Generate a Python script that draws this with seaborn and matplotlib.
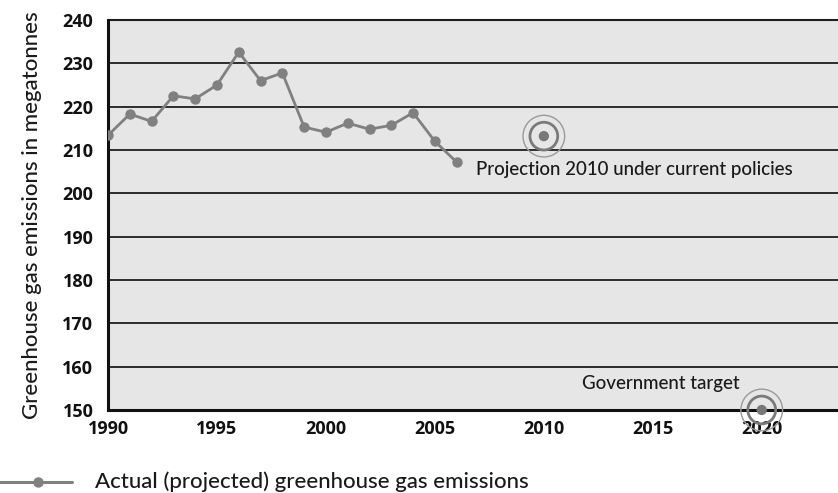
import matplotlib
matplotlib.use("Agg")
import matplotlib.pyplot as plt
import seaborn as sns
import pandas as pd

years = [1990, 1991, 1992, 1993, 1994, 1995, 1996, 1997, 1998, 1999,
         2000, 2001, 2002, 2003, 2004, 2005, 2006]
emissions = [213.4, 218.3, 216.6, 222.5, 221.8, 225.0, 232.6, 226.0, 227.8, 215.3,
             214.1, 216.2, 214.8, 215.7, 218.6, 212.0, 207.2]
proj_year = [2010]
proj_value = [213.2]
target_year = [2020]
target_value = [150]
y_ticks = [150, 160, 170, 180, 190, 200, 210, 220, 230, 240]
x_ticks = [1990, 1995, 2000, 2005, 2010, 2015, 2020]

sns.set_style("white")
plt.rcParams['font.family'] = ['Lato', 'DejaVu Sans']

df = pd.DataFrame({"year": years, "value": emissions})
proj = pd.DataFrame({"year": proj_year, "value": proj_value})
targ = pd.DataFrame({"year": target_year, "value": target_value})

fig = plt.figure(figsize=(8.38, 4.93), dpi=100)
ax = fig.add_axes([0.1289, 0.1684, 0.8711, 0.7910])
ax.set_facecolor("#e6e6e6")

for yv in y_ticks[1:]:
    ax.axhline(yv, color="#1e1e1e", lw=1.3, zorder=1)

gray = "#808080"
sns.lineplot(data=df, x="year", y="value", ax=ax, color=gray, lw=2.0,
             marker="o", markersize=7.5, markeredgewidth=0, zorder=3)

for d in (proj, targ):
    sns.scatterplot(data=d, x="year", y="value", ax=ax, s=900, facecolor="none",
                    edgecolor="#9a9a9a", linewidth=1.0, zorder=4, clip_on=False)
    sns.scatterplot(data=d, x="year", y="value", ax=ax, s=400, facecolor="none",
                    edgecolor="#7a7a7a", linewidth=2.0, zorder=4, clip_on=False)
    sns.scatterplot(data=d, x="year", y="value", ax=ax, s=55, color="#787878",
                    edgecolor="none", zorder=5, clip_on=False)

txt_kw = dict(fontsize=13.5, color="#1a1a1a", fontweight="medium")
ax.text(2006.9, 205.4, "Projection 2010 under current policies", ha="left",
        va="center", **txt_kw)
ax.text(2019.0, 156.2, "Government target", ha="right", va="center", **txt_kw)

ax.set_xlim(1990, 2023.5)
ax.set_ylim(150, 240)
ax.set_xticks(x_ticks)
ax.set_yticks(y_ticks)
tick_font = dict(fontsize=13, fontweight="bold", family=["Open Sans", "DejaVu Sans"])
ax.set_xticklabels([str(v) for v in x_ticks], **tick_font)
ax.set_yticklabels([str(v) for v in y_ticks], **tick_font)
ax.tick_params(axis="both", direction="inout", length=9, width=1.5, color="#111111",
               labelcolor="#111111")
ax.tick_params(axis="y", pad=6)
ax.tick_params(axis="x", pad=3)
ax.set_xlabel("")
ax.set_ylabel("Greenhouse gas emissions in megatonnes", fontsize=16,
              color="#1a1a1a", labelpad=15, fontweight="medium")
for s in ("top", "right"):
    ax.spines[s].set_visible(False)
ax.spines["left"].set_linewidth(2.2)
ax.spines["bottom"].set_linewidth(2.2)
ax.spines["left"].set_color("#111111")
ax.spines["bottom"].set_color("#111111")
ax.axhline(240, color="#1e1e1e", lw=1.5, zorder=1, clip_on=False)

fig.add_artist(plt.Line2D([0.0, 0.086], [0.022, 0.022], color=gray, lw=2.2,
                          transform=fig.transFigure))
fig.add_artist(plt.Line2D([0.045], [0.022], color=gray, marker="o", markersize=7.5,
                          markeredgewidth=0, transform=fig.transFigure))
fig.text(0.113, 0.022, "Actual (projected) greenhouse gas emissions", fontsize=16,
         ha="left", va="center", color="#1a1a1a", fontweight="medium")

fig.savefig("out.png", dpi=100)
